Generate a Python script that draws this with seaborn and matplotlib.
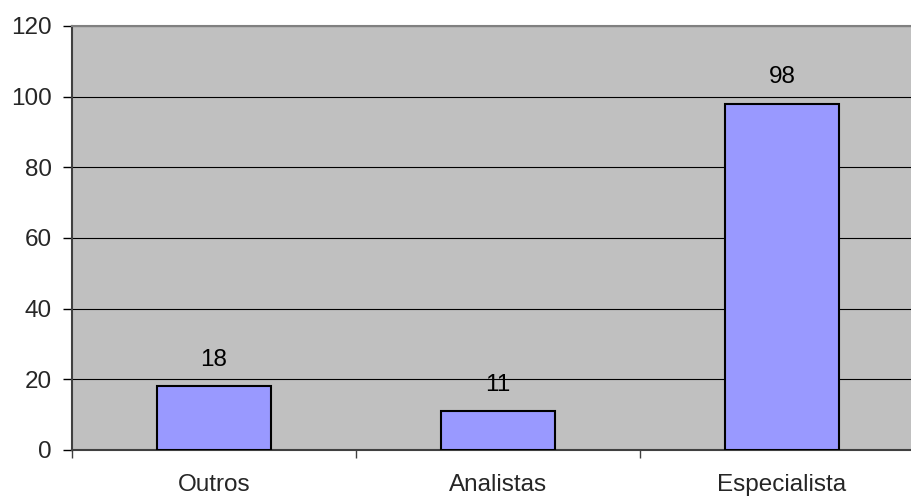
import matplotlib
matplotlib.use("Agg")
import matplotlib.pyplot as plt
import seaborn as sns
import pandas as pd

categories = ["Outros", "Analistas", "Especialista"]
values = [18, 11, 98]
yticks = [0, 20, 40, 60, 80, 100, 120]

df = pd.DataFrame({"categoria": categories, "valor": values})

sns.set_style("white")
plt.rcParams["font.family"] = ["Liberation Sans", "DejaVu Sans"]

FS = 17.5
W, H = 911, 499
fig = plt.figure(figsize=(W / 100, H / 100), dpi=100)
left, right, top, bottom = 72, 924, 26, 450
ax = fig.add_axes([left / W, (H - bottom) / H, (right - left) / W, (bottom - top) / H])
ax.set_facecolor("#C0C0C0")

sns.barplot(data=df, x="categoria", y="valor", ax=ax, color="#9999FF",
            saturation=1, width=0.4, edgecolor="black", linewidth=1.5, zorder=3)

for i, v in enumerate(values):
    ax.annotate(str(v), (i, v), xytext=(0, 11), textcoords="offset points",
                ha="center", va="bottom", fontsize=FS, color="black")

ax.set_xlim(-0.5, 2.5)
ax.set_ylim(0, 120)
ax.set_yticks(yticks)
ax.yaxis.grid(True, color="black", linewidth=0.8, zorder=0)
ax.set_axisbelow(True)
ax.set_xticks([-0.5, 0.5, 1.5, 2.5], minor=False)
ax.set_xticklabels([])
ax.set_xticks([0, 1, 2], minor=True)
ax.set_xticklabels(categories, minor=True)
ax.tick_params(axis="x", which="major", length=6, width=1, color="#404040", direction="out", bottom=True)
ax.tick_params(axis="x", which="minor", length=0, labelsize=FS, pad=17)
ax.tick_params(axis="y", length=6.5, width=1, color="black", direction="out", left=True, labelsize=FS, pad=8)
ax.set_xlabel("")
ax.set_ylabel("")

for s in ["left", "bottom"]:
    ax.spines[s].set_color("#404040")
    ax.spines[s].set_linewidth(1.5)
ax.spines["top"].set_color("#808080")
ax.spines["top"].set_linewidth(1.5)
ax.spines["right"].set_visible(False)

fig.savefig("out.png", dpi=100)
